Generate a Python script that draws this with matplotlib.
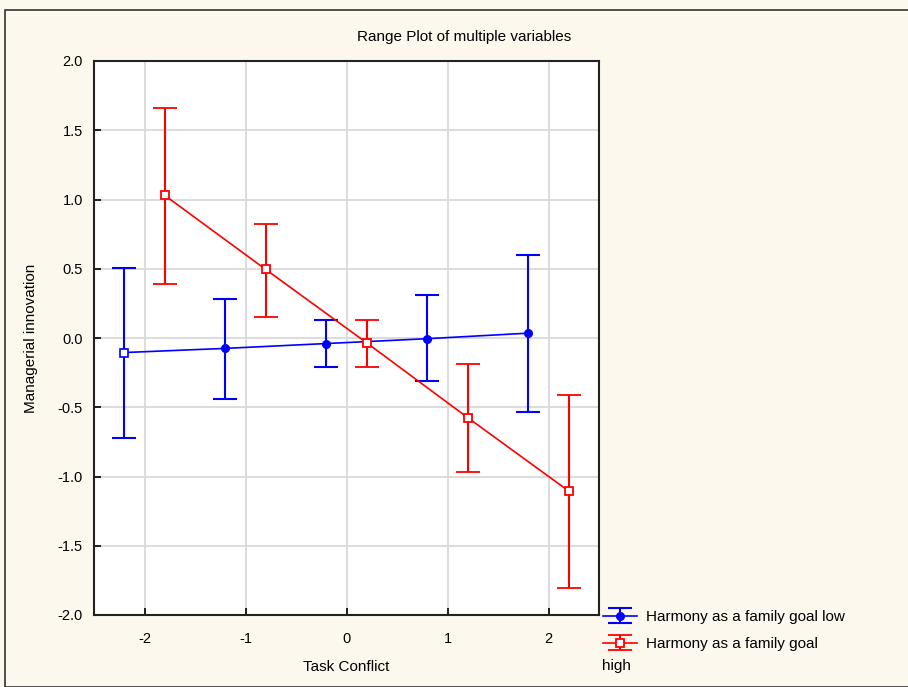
import matplotlib.pyplot as plt
from matplotlib.patches import Rectangle

plt.rcParams['font.family'] = ['Liberation Sans Narrow', 'Liberation Sans', 'DejaVu Sans']
plt.rcParams['axes.unicode_minus'] = False

# task conflict positions (groups are offset around -2..2)
x_low = [-2.2, -1.2, -0.2, 0.8, 1.8]
x_high = [-1.8, -0.8, 0.2, 1.2, 2.2]

# managerial innovation means and ranges
low_mean = [-0.105, -0.075, -0.04, -0.005, 0.035]
low_top = [0.505, 0.285, 0.13, 0.31, 0.60]
low_bot = [-0.725, -0.44, -0.21, -0.31, -0.535]

high_mean = [1.03, 0.495, -0.035, -0.575, -1.105]
high_top = [1.66, 0.825, 0.13, -0.185, -0.415]
high_bot = [0.39, 0.15, -0.21, -0.97, -1.805]

labels = ['Harmony as a family goal low', 'Harmony as a family goal']

bg = '#fdf8ee'
fig = plt.figure(figsize=(9.08, 6.87), dpi=100, facecolor=bg)
ax = fig.add_axes([94 / 908, 1 - 615 / 687, 505 / 908, 554 / 687])
ax.set_facecolor('white')

# outer frame like the original export
fig.patches.append(Rectangle((5 / 908, 0), 1.2, 1 - 10 / 687, transform=fig.transFigure,
                             fill=False, edgecolor='#333333', linewidth=1.2))


def draw(xs, mean, top, bot, color, label, **mk):
    err = [[m - b for m, b in zip(mean, bot)], [t - m for t, m in zip(top, mean)]]
    return ax.errorbar(xs, mean, yerr=err, color=color, linewidth=1.2, elinewidth=1.5,
                       capsize=8.5, capthick=1.5, fmt='-', label=label, zorder=3, **mk)


h_low = draw(x_low, low_mean, low_top, low_bot, 'blue', labels[0],
             marker='o', ms=5.5, markevery=[1, 2, 3, 4])
h_high = draw(x_high, high_mean, high_top, high_bot, 'red', labels[1],
              marker='s', ms=6, mfc='white', mec='red', mew=1.3)

# first blue point is drawn as an open square in the original
ax.plot(x_low[:1], low_mean[:1], 's', ms=6, mfc='white', mec='blue', mew=1.2, zorder=5)

ax.set_xlim(-2.5, 2.5)
ax.set_ylim(-2.0, 2.0)
ax.set_xticks([-2, -1, 0, 1, 2])
ax.set_yticks([-2.0, -1.5, -1.0, -0.5, 0.0, 0.5, 1.0, 1.5, 2.0])
ax.set_yticklabels([f'{v:.1f}' for v in ax.get_yticks()])
ax.tick_params(direction='in', length=5, width=1.2, labelsize=10.5, pad=12)
ax.tick_params(axis='y', pad=8)
ax.grid(True, color='#d9d9d9', linewidth=1.3)
ax.set_axisbelow(True)
for s in ax.spines.values():
    s.set_linewidth(1.5)
    s.set_color('#222222')

ax.set_xlabel('Task Conflict', fontsize=11, labelpad=10)
ax.set_ylabel('Managerial innovation', fontsize=11, labelpad=14)
fig.text(464 / 908, 1 - 37 / 687, 'Range Plot of multiple variables', ha='center', va='center',
         fontsize=11)

fig.legend([h_low, h_high], labels, loc='upper left', bbox_to_anchor=(603 / 908, 1 - 610 / 687),
           frameon=False, fontsize=11, handlelength=2.2, handletextpad=0.6,
           labelspacing=0.85, borderaxespad=0, borderpad=0)
fig.text(602 / 908, 1 - 666 / 687, 'high', ha='left', va='center', fontsize=11)

fig.savefig('out.png', dpi=100, facecolor=bg)
